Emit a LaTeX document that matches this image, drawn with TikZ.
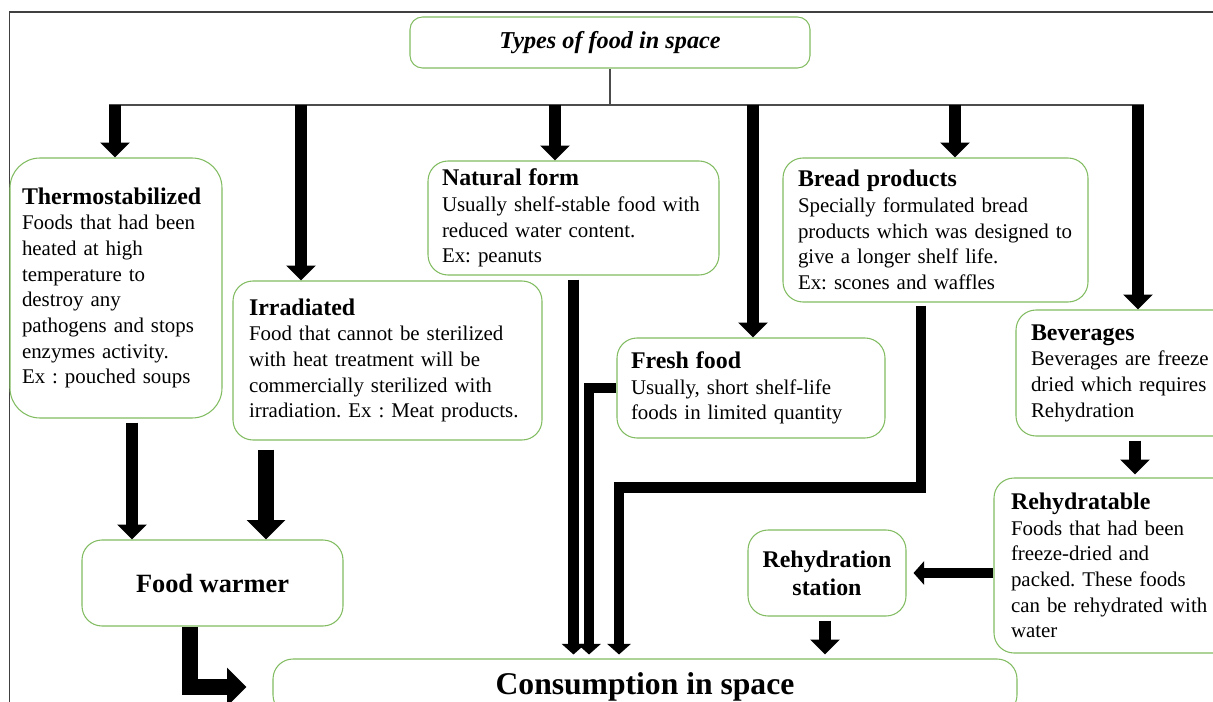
\documentclass[tikz,border=0pt]{standalone}
\usepackage{fontspec}
\setmainfont{Liberation Serif}
\usetikzlibrary{arrows.meta}
\definecolor{boxgreen}{RGB}{130,188,98}
\newcommand{\bodysize}{\fontsize{11.9}{14.6}\selectfont}
\newcommand{\boxhead}[1]{{\fontsize{13.6}{14.6}\selectfont\bfseries #1}}
\frenchspacing

\begin{document}
\begin{tikzpicture}[x=2mm,y=2mm]
              \tikzstyle{every node}+=[inner sep=0pt]
              \tikzstyle{box}=[draw=boxgreen, line width=0.6pt, rounded corners=0.4cm, align=left, font=\bodysize]
              \tikzstyle{fat}=[black, line width=7pt, -{Triangle[width=17pt,length=8.5pt,line width=0pt]}]
              \tikzstyle{fatter}=[black, line width=9.6pt, -{Triangle[width=22pt,length=11pt,line width=0pt]}]
              \tikzstyle{slim}=[black, line width=6pt, -{Triangle[width=13.5pt,length=6pt,line width=0pt]}]
              \clip (0,0) rectangle (121.3,-70.2);
              \draw [black!75, line width=0.6pt] (0.95,-70.2) -- (0.95,-1.2) -- (121.3,-1.2);
              \node [box, rounded corners=0.25cm, minimum width=8cm, minimum height=1.02cm, align=center, font=\fontsize{13.8}{16}\selectfont\bfseries\itshape] (types) at (61,-4.25) {Types of food in space};
              \node [box, rounded corners=0.6cm, minimum width=4.24cm, minimum height=5.2cm, text width=3.76cm] (thermo) at (11.6,-28.8) {\boxhead{Thermostabilized}\\Foods that had been\\heated at high\\temperature to\\destroy any\\pathogens and stops\\enzymes activity.\\Ex : pouched soups};
              \node [box, minimum width=6.18cm, minimum height=3.18cm, text width=5.54cm] (irrad) at (38.75,-36.05) {\boxhead{Irradiated}\\Food that cannot be sterilized\\with heat treatment will be\\commercially sterilized with\\irradiation. Ex : Meat products.};
              \node [box, minimum width=5.82cm, minimum height=2.28cm, text width=5.26cm] (natural) at (57.35,-21.8) {\boxhead{Natural form}\\Usually shelf-stable food with\\reduced water content.\\Ex: peanuts};
              \node [box, minimum width=6.1cm, minimum height=2.88cm, text width=5.5cm] (bread) at (93.55,-23) {\boxhead{Bread products}\\Specially formulated bread\\products which was designed to\\give a longer shelf life.\\Ex: scones and waffles};
              \node [box, minimum width=5.36cm, minimum height=2cm, text width=4.8cm] (fresh) at (75.1,-38.8) {\boxhead{Fresh food}\\Usually, short shelf-life\\foods in limited quantity};
              \node [box, minimum width=4.76cm, minimum height=2.52cm, text width=4.16cm] (bever) at (113.5,-37.3) {\boxhead{Beverages}\\Beverages are freeze\\dried which requires\\Rehydration};
              \node [box, minimum width=5.64cm, minimum height=3.5cm, text width=4.96cm] (rehyd) at (113.5,-56.55) {\boxhead{Rehydratable}\\Foods that had been\\freeze-dried and\\packed. These foods\\can be rehydrated with\\water};
              \node [box, minimum width=3.16cm, minimum height=1.72cm, align=center, font=\fontsize{13.6}{15.9}\selectfont\bfseries] (station) at (82.7,-57.3) {Rehydration\\station};
              \node [box, minimum width=5.22cm, minimum height=1.72cm, align=center, font=\fontsize{15}{18}\selectfont\bfseries] (warmer) at (21.25,-58.3) {Food warmer};
              \node [box, minimum width=14.88cm, minimum height=1.12cm, align=center, font=\fontsize{18}{21}\selectfont\bfseries] (consum) at (64.5,-68.7) {Consumption in space};
              \foreach \n/\x in {1/11.5, 2/30.1, 3/55.5, 4/75.3, 5/95.5, 6/113.8}
                \coordinate (b\n) at (\x,-10.5);
              \draw [black!70, line width=0.6pt] (types.south) -- (types.south |- b1);
              \draw [black!70, line width=0.6pt] ([xshift=-3.5pt]b1) -- ([xshift=3.5pt]b6);
              \draw [fat] (b1) -- (b1 |- thermo.north);
              \draw [fat] (b2) -- (b2 |- irrad.north);
              \draw [fat] (b3) -- (b3 |- natural.north);
              \draw [fat] (b4) -- (b4 |- fresh.north);
              \draw [fat] (b5) -- (b5 |- bread.north);
              \draw [fat] (b6) -- (b6 |- bever.north);
              \draw [fat] ([xshift=0.32cm,yshift=-0.08cm]thermo.south) -- ([xshift=0.32cm]thermo.south |- warmer.north);
              \draw [fatter] ([xshift=-2.43cm,yshift=-0.18cm]irrad.south) -- ([xshift=-2.43cm]irrad.south |- warmer.north);
              \draw [fatter] ([xshift=-0.45cm]warmer.south) |- ([xshift=-0.52cm]consum.west);
              \draw [slim] ([yshift=-0.08cm]natural.south) -- ([yshift=0.08cm]natural.south |- consum.north);
              \draw [slim] (fresh.west) -| ([xshift=-1.12cm,yshift=0.08cm]consum.north);
              \draw [slim] ([xshift=-0.29cm,yshift=-0.06cm]bread.south) |- ([yshift=-0.98cm]fresh.south) -| ([xshift=-0.52cm,yshift=0.08cm]consum.north);
              \draw [fat] ([xshift=-0.04cm,yshift=-0.08cm]station.south) -- ([xshift=-0.04cm,yshift=0.08cm]station.south |- consum.north);
              \draw [slim] (rehyd.west |- station.east) -- ([xshift=0.14cm]station.east);
              \draw [fat] ([yshift=-0.08cm]bever.south) -- ([yshift=0.06cm]rehyd.north);
            \end{tikzpicture}
\end{document}
